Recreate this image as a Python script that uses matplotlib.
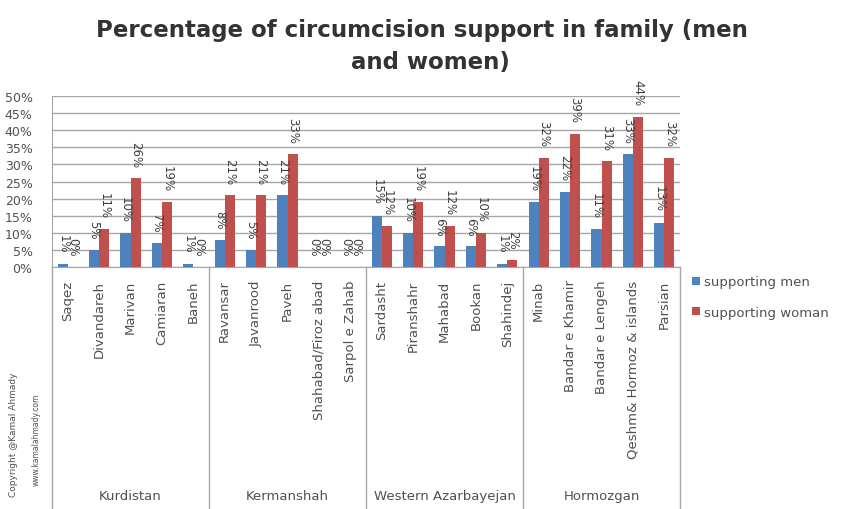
import matplotlib
matplotlib.use("Agg")
import matplotlib.pyplot as plt
import matplotlib.transforms as mtransforms
import numpy as np

categories = ["Saqez", "Divandareh", "Marivan", "Camiaran", "Baneh",
              "Ravansar", "Javanrood", "Paveh", "Shahabad/Firoz abad", "Sarpol e Zahab",
              "Sardasht", "Piranshahr", "Mahabad", "Bookan", "Shahindej",
              "Minab", "Bandar e Khamir", "Bandar e Lengeh", "Qeshm& Hormoz & islands", "Parsian"]
groups = ["Kurdistan", "Kermanshah", "Western Azarbayejan", "Hormozgan"]
group_sizes = [5, 5, 5, 5]
men = [1, 5, 10, 7, 1,
       8, 5, 21, 0, 0,
       15, 10, 6, 6, 1,
       19, 22, 11, 33, 13]
women = [0, 11, 26, 19, 0,
         21, 21, 33, 0, 0,
         12, 19, 12, 10, 2,
         32, 39, 31, 44, 32]
series_names = ["supporting men", "supporting woman"]
yticks = [0, 5, 10, 15, 20, 25, 30, 35, 40, 45, 50]

W, H = 861, 510
fig = plt.figure(figsize=(W / 100, H / 100), dpi=100)
fig.patch.set_facecolor("white")

left_px, right_px, top_px, bot_px = 52, 680, 97, 268
ax = fig.add_axes([left_px / W, 1 - bot_px / H, (right_px - left_px) / W, (bot_px - top_px) / H])
ax.set_facecolor("white")

blue = "#4F81BD"
red = "#C0504D"
text_col = "#505050"
n = len(categories)
x = np.arange(n)
bw = 0.32
b1 = ax.bar(x - bw / 2, men, bw, color=blue, label=series_names[0], zorder=3)
b2 = ax.bar(x + bw / 2, women, bw, color=red, label=series_names[1], zorder=3)

for rects, vals in ((b1, men), (b2, women)):
    for r, v in zip(rects, vals):
        ax.text(r.get_x() + r.get_width() / 2, v + 3.3, f"{v}%", rotation=270,
                ha="center", va="bottom", fontsize=8.5, color="#404040", zorder=4,
                clip_on=False)

ax.set_xlim(-0.5, n - 0.5)
ax.set_ylim(0, 50)
ax.set_yticks(yticks)
ax.set_yticklabels([f"{t}%" for t in yticks], fontsize=9, color=text_col)
ax.yaxis.grid(True, color="#A6A6A6", linewidth=1.0, zorder=0)
ax.tick_params(axis="y", length=0, pad=14)
ax.set_xticks(x)
ax.set_xticklabels(categories, rotation=90, fontsize=9.5, color=text_col, va="top", ha="center")
ax.tick_params(axis="x", length=0, pad=9)
for s in ["top", "right"]:
    ax.spines[s].set_visible(False)
ax.spines["left"].set_color("#A6A6A6")
ax.spines["bottom"].set_color("#A6A6A6")

# category-axis group boxes
trans = mtransforms.blended_transform_factory(ax.transData, ax.transAxes)
bottom_axes = -(H - bot_px) / (bot_px - top_px)
edges = np.concatenate([[0], np.cumsum(group_sizes)]) - 0.5
for e in edges:
    ax.plot([e, e], [0, bottom_axes], transform=trans, color="#A6A6A6",
            linewidth=1.0, clip_on=False)
label_y = -(497 - bot_px) / (bot_px - top_px)
for g, a, b in zip(groups, edges[:-1], edges[1:]):
    ax.text((a + b) / 2, label_y, g, transform=trans, ha="center", va="center",
            fontsize=9.5, color=text_col)

# title
fig.text(0.49, 1 - 31 / H, "Percentage of circumcision support in family (men",
         ha="center", va="center", fontsize=16.5, fontweight="bold", color="#333333")
fig.text(0.50, 1 - 62 / H, "and women)",
         ha="center", va="center", fontsize=16.5, fontweight="bold", color="#333333")

# legend
leg = fig.legend(handles=[b1, b2], labels=series_names, loc="center left",
                 bbox_to_anchor=(680 / W, 1 - 298 / H), frameon=False, fontsize=9.5,
                 handlelength=0.6, handleheight=0.6, labelspacing=1.3, handletextpad=0.3,
                 labelcolor=text_col)

# copyright
fig.text(14 / W, 1 - 435 / H, "Copyright @Kamal Ahmady", rotation=90, ha="center", va="center",
         fontsize=6.5, color=text_col)
fig.text(36 / W, 1 - 440 / H, "www.kamalahmady.com", rotation=90, ha="center", va="center",
         fontsize=5.5, color=text_col)

fig.savefig("out.png", dpi=100, facecolor="white")
